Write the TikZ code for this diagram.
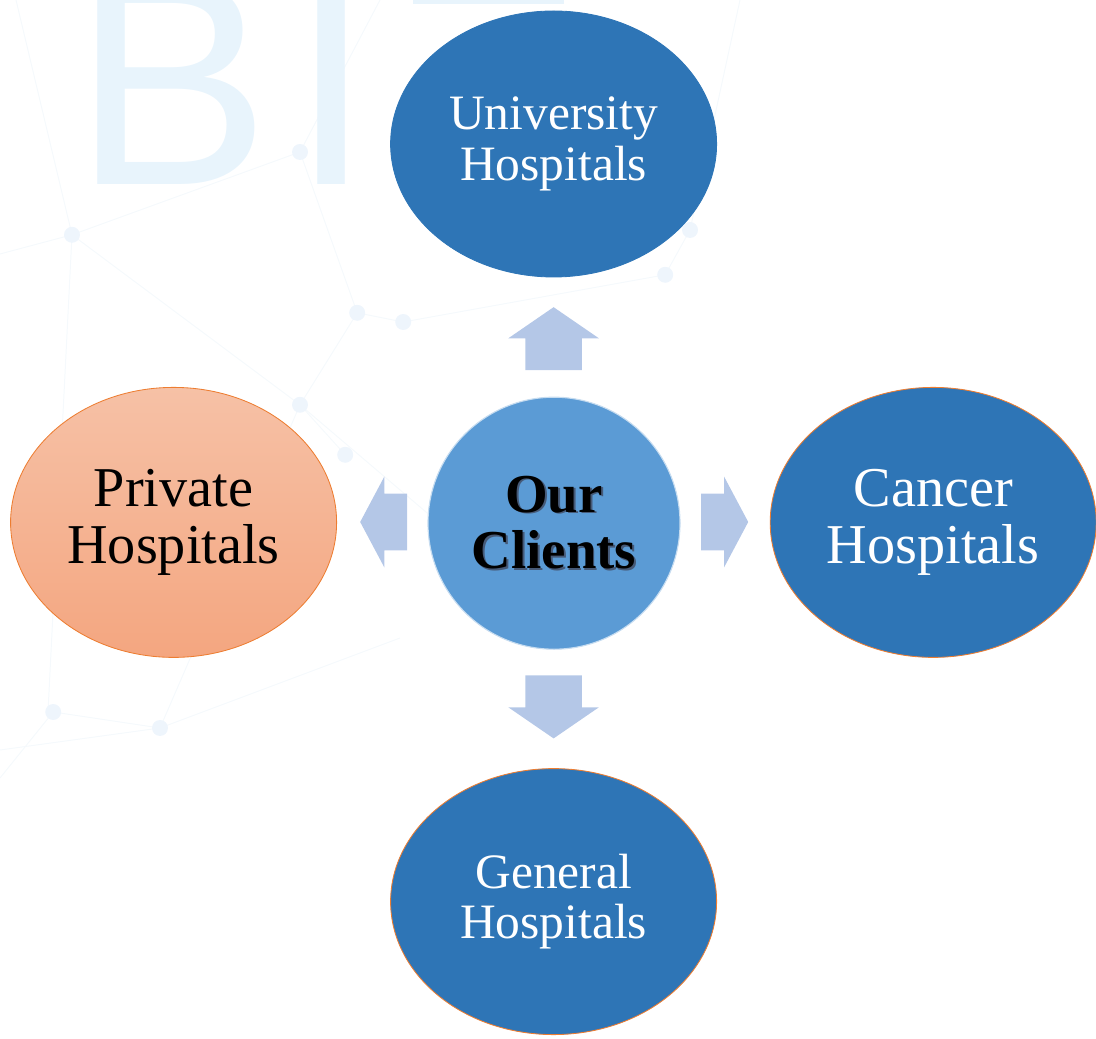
\documentclass[tikz,border=0pt]{standalone}
\usepackage{fontspec}
\setmainfont{Liberation Serif}
\newfontfamily\markfont{Liberation Sans}
\usepackage{xcolor}
\usepackage{tikz}
\usetikzlibrary{shapes,arrows}
\definecolor{darkblue}{RGB}{46,117,182}
\definecolor{midblue}{RGB}{91,155,213}
\definecolor{paleblue}{RGB}{180,199,231}
\definecolor{orangeline}{RGB}{237,125,49}
\definecolor{peachtop}{RGB}{246,193,166}
\definecolor{peachbottom}{RGB}{244,166,128}
\definecolor{markblue}{RGB}{232,244,252}
\definecolor{netblue}{RGB}{245,249,252}
\definecolor{dotblue}{RGB}{238,245,252}
\definecolor{shadowgray}{RGB}{70,90,120}
\tikzstyle{client} = [ellipse, inner sep=0pt, text centered, align=center, minimum width=8.15cm, minimum height=6.75cm]
\tikzstyle{hospital} = [client, fill=darkblue, draw=orangeline, line width=0.6pt, text=white, font=\fontsize{40}{40.5}\selectfont]
\tikzstyle{narrow} = [hospital, minimum width=8.15cm, minimum height=6.65cm, font=\fontsize{35.2}{36}\selectfont]
\tikzstyle{pointer} = [single arrow, fill=paleblue, draw=none, inner xsep=0pt, inner ysep=0.7cm, single arrow head extend=0.425cm, minimum width=2.25cm]
\tikzstyle{net} = [draw=netblue, line width=0.7pt]
\newcommand{\shadowed}[1]{\rlap{\kern0.045cm\raisebox{-0.045cm}{\textcolor{shadowgray}{#1}}}#1}

\begin{document}
\begin{tikzpicture}
\useasboundingbox (0,0) rectangle (27.4,25.95);

\begin{scope}
\clip (0,0) rectangle (27.4,25.95);
\path [net] (0,19.6) -- (1.8,20.08) -- (7.5,22.15) -- (9.5,25.95);
\path [net] (1.8,20.08) -- (7.5,15.83) -- (12,12);
\path [net] (0.4,25.95) -- (1.8,20.08) -- (1.2,8.15);
\path [net] (7.5,22.15) -- (8.93,18.13) -- (10.08,17.9) -- (16.63,19.08) -- (17.25,20.2) -- (18.5,25.95);
\path [net] (8.93,18.13) -- (7.5,15.83) -- (8.63,14.58);
\path [net] (0,6.5) -- (1.33,8.15) -- (4.0,7.75) -- (10,10);
\path [net] (0,7.2) -- (4.0,7.75) -- (7.5,15.83);
\foreach \p in {(1.8,20.08),(7.5,22.15),(8.93,18.13),(10.08,17.9),(7.5,15.83),(8.63,14.58),(1.33,8.15),(4.0,7.75),(16.63,19.08),(17.25,20.2)}
  \fill [dotblue] \p circle (0.2);
\node [anchor=base west, inner sep=0pt, text=markblue, font=\markfont\fontsize{210}{210}\selectfont] (markb) at (1.83,21.325) {B};
\node [anchor=base west, inner sep=0pt, text=markblue, font=\markfont\fontsize{210}{210}\selectfont] (marki) at (7.25,21.325) {I};
\fill [markblue] (10.33,25.85) rectangle (14.1,26.2);
\end{scope}

\node [narrow, draw=darkblue] (univ) at (13.84,22.35) {University\\Hospitals};
\node [client, draw=orangeline, line width=0.6pt, top color=peachtop, bottom color=peachbottom, font=\fontsize{40}{40.5}\selectfont] (private) at (4.34,12.89) {Private\\Hospitals};
\node [hospital] (cancer) at (23.33,12.89) {Cancer\\Hospitals};
\node [narrow] (general) at (13.84,3.41) {General\\Hospitals};

\node [circle, fill=midblue, draw=white!65!midblue, line width=0.8pt, inner sep=0pt, minimum size=6.3cm, align=center, font=\fontsize{39}{40}\selectfont\bfseries] (clients) at (13.85,12.87) {\shadowed{Our}\\\shadowed{Clients}};

\node [pointer, rotate=90, minimum height=1.575cm, single arrow tip angle=111] (touniv) at (13.84,17.24) {};
\node [pointer, rotate=-90, minimum height=1.575cm, single arrow tip angle=111] (togeneral) at (13.84,8.52) {};
\node [pointer, minimum height=1.175cm, single arrow tip angle=124] (tocancer) at (17.93,12.9) {};
\node [pointer, rotate=180, minimum height=1.175cm, single arrow tip angle=124] (toprivate) at (9.78,12.9) {};

\end{tikzpicture}
\end{document}
